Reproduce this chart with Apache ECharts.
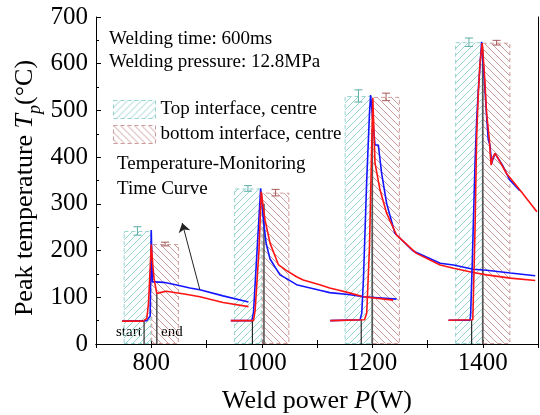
<!DOCTYPE html>
<html><head><meta charset="utf-8">
<script src="https://cdn.jsdelivr.net/npm/echarts@6/dist/echarts.min.js"></script>
<style>html,body{margin:0;padding:0;background:#fff}#c{width:540px;height:415px}</style>
</head><body><div id="c"></div>
<script>
// ---------- data ----------
const powers = [800, 1000, 1200, 1400];
const topPeak = [242, 333, 531, 646];
const topErr = [9, 6, 13, 9];
const bottomPeak = [214, 324, 529, 645];
const bottomErr = [4, 7, 8, 5];
const xTickLabels = [800, 1000, 1200, 1400];
const yTickLabels = [0, 100, 200, 300, 400, 500, 600, 700];

// temperature-monitoring time curves, drawn in weld-power coordinates
const blue800 = [[747,49],[792,50],[798,60],[800,244],[802,133],[807,133],[822,132],[840,128],[870,120],[888,116],[930,103],[976,90]];
const red800 = [[747,49],[785,49],[792,55],[795,87],[797,137],[800,213],[803,166],[805,141],[810,108],[816,110],[827,113],[860,107],[888,101],[930,89],[976,80]];
const blue1000 = [[944,50],[982,50],[985,67],[998,333],[1003,265],[1008,215],[1015,182],[1033,148],[1045,140],[1063,127],[1105,115],[1123,110],[1157,106],[1184,101],[1244,96]];
const red1000 = [[944,50],[985,50],[988,72],[995,200],[999,326],[1006,265],[1015,216],[1030,170],[1045,157],[1063,144],[1075,137],[1105,127],[1123,120],[1136,116],[1157,110],[1184,101],[1238,94]];
const blue1200 = [[1124,50],[1178,52],[1181,66],[1184,137],[1190,351],[1195,494],[1197,533],[1205,426],[1211,426],[1217,365],[1226,301],[1241,237],[1274,199],[1323,173],[1347,169],[1383,160],[1407,158],[1450,152],[1495,146]];
const red1200 = [[1124,50],[1186,52],[1190,66],[1195,208],[1199,422],[1201,527],[1205,387],[1214,330],[1226,280],[1244,233],[1280,194],[1323,169],[1347,162],[1383,153],[1407,148],[1450,141],[1495,136]];
const blue1400 = [[1338,51],[1377,51],[1378,60],[1381,173],[1386,387],[1389,480],[1392,544],[1398,647],[1403,565],[1407,487],[1410,437],[1413,426],[1416,387],[1422,408],[1428,397],[1437,380],[1449,351],[1467,328]];
const red1400 = [[1338,51],[1382,52],[1386,244],[1389,444],[1392,537],[1395,601],[1399,644],[1403,579],[1407,494],[1412,437],[1415,383],[1418,397],[1422,408],[1428,397],[1443,365],[1467,330],[1498,283]];

// weld start / end markers (x, top temperature)
const startMarks = [[787,49],[983,50],[1180,53],[1380,51]];
const endMarks = [[810,108],[1004,300],[1200,460],[1400,630]];
// arrow of the annotation (from, to)
const arrowFrom = [888,116];
const arrowTo = [856,259];

// ---------- styling ----------
const FONT = 'Liberation Serif';
const TEAL = '#95d3cd', TEAL_D = '#5aaea7';
const ROSE = '#cc9b9b', ROSE_D = '#a85a5a';
const HALF = 25; // bar half span in W

function hatch(color, dir) {
  const c = document.createElement('canvas');
  c.width = c.height = 7;
  const g = c.getContext('2d');
  g.strokeStyle = color; g.lineWidth = 1;
  g.beginPath();
  if (dir > 0) {
    g.moveTo(0,7); g.lineTo(7,0); g.moveTo(-1,1); g.lineTo(1,-1); g.moveTo(6,8); g.lineTo(8,6);
  } else {
    g.moveTo(0,0); g.lineTo(7,7); g.moveTo(-1,6); g.lineTo(1,8); g.moveTo(6,-1); g.lineTo(8,1);
  }
  g.stroke();
  return c;
}

const chart = echarts.init(document.getElementById('c'), null, {renderer:'canvas'});

function errRender(color) {
  return function (params, api) {
    const x = api.value(0), v = api.value(1), e = api.value(2);
    const lo = api.coord([x, v - e]), hi = api.coord([x, v + e]);
    const w = 4;
    const st = {stroke: color, lineWidth: 1};
    return {type:'group', children:[
      {type:'line', shape:{x1:lo[0],y1:lo[1],x2:hi[0],y2:hi[1]}, style:st},
      {type:'line', shape:{x1:lo[0]-w,y1:lo[1],x2:lo[0]+w,y2:lo[1]}, style:st},
      {type:'line', shape:{x1:hi[0]-w,y1:hi[1],x2:hi[0]+w,y2:hi[1]}, style:st}
    ]};
  };
}
function vlineRender(color, width) {
  return function (params, api) {
    const x = api.value(0), t = api.value(1);
    const a = api.coord([x, 0]), b = api.coord([x, t]);
    return {type:'line', shape:{x1:a[0],y1:a[1],x2:b[0],y2:b[1]}, style:{stroke:color, lineWidth:width}};
  };
}
function curve(data, color) {
  return {type:'line', data:data, showSymbol:false, symbol:'none', smooth:false,
    lineStyle:{color:color, width:1.6}, itemStyle:{color:color}, z:5, silent:true};
}

const option = {
  animation:false,
  grid:{left:96, right:2, top:17, bottom:71, outerBoundsMode:'none', containLabel:false},
  legend:{
    data:[{name:'Top interface, centre', icon:'rect'},{name:'bottom interface, centre', icon:'rect'}],
    orient:'vertical', left:108, top:95, itemWidth:42, itemHeight:18, itemGap:6,
    itemStyle:{borderType:[4,3], borderWidth:1},
    textStyle:{fontFamily:FONT, fontSize:19, color:'#000'}, selectedMode:false
  },
  xAxis:[{
    type:'value', min:700, max:1500, interval:100,
    axisLine:{lineStyle:{color:'#000', width:1}},
    axisTick:{inside:true, length:4, lineStyle:{color:'#000'}},
    splitLine:{show:false},
    axisLabel:{fontFamily:FONT, fontSize:25, color:'#000', margin:7,
      formatter:v => xTickLabels.indexOf(v) >= 0 ? String(v) : ''}
  },{
    type:'value', position:'top', min:700, max:1500, interval:100,
    axisLine:{show:true, lineStyle:{color:'#000', width:1}},
    axisTick:{show:true, inside:true, length:4, lineStyle:{color:'#000'}},
    axisLabel:{show:false}, splitLine:{show:false}
  }],
  yAxis:[{
    type:'value', min:0, max:700, interval:100,
    axisLine:{show:true, lineStyle:{color:'#000', width:1}},
    axisTick:{show:true, inside:true, length:5, lineStyle:{color:'#000'}},
    minorTick:{show:true, splitNumber:2, length:3, lineStyle:{color:'#000'}},
    splitLine:{show:false},
    axisLabel:{fontFamily:FONT, fontSize:25, color:'#000', margin:8,
      formatter:v => yTickLabels.indexOf(v) >= 0 ? String(v) : ''}
  },{
    type:'value', position:'right', min:0, max:700, interval:100,
    axisLine:{show:true, lineStyle:{color:'#000', width:1}},
    axisTick:{show:false}, axisLabel:{show:false}, splitLine:{show:false}
  }],
  series:[
    {name:'Top interface, centre', type:'bar', barWidth:27.6, barGap:'-100%',
     data: powers.map((p,i)=>[p-HALF, topPeak[i]]),
     itemStyle:{color:{image:hatch(TEAL,1), repeat:'repeat'}, borderColor:TEAL, borderWidth:1, borderType:[4,3]}, z:1},
    {name:'bottom interface, centre', type:'bar', barWidth:27.6, barGap:'-100%',
     data: powers.map((p,i)=>[p+HALF, bottomPeak[i]]),
     itemStyle:{color:{image:hatch(ROSE,-1), repeat:'repeat'}, borderColor:ROSE, borderWidth:1, borderType:[4,3]}, z:1},
    {type:'custom', renderItem:errRender(TEAL_D), data: powers.map((p,i)=>[p-HALF, topPeak[i], topErr[i]]), z:3, silent:true},
    {type:'custom', renderItem:errRender(ROSE_D), data: powers.map((p,i)=>[p+HALF, bottomPeak[i], bottomErr[i]]), z:3, silent:true},
    {type:'custom', renderItem:vlineRender('#000',1), data:startMarks, z:4, silent:true},
    {type:'custom', renderItem:vlineRender('#555',1.6), data:endMarks, z:4, silent:true},
    curve(blue800,'#1414ff'), curve(red800,'#ff1414'),
    curve(blue1000,'#1414ff'), curve(red1000,'#ff1414'),
    curve(blue1200,'#1414ff'), curve(red1200,'#ff1414'),
    curve(blue1400,'#1414ff'), curve(red1400,'#ff1414'),
    {type:'lines', coordinateSystem:'cartesian2d', z:6, silent:true,
     symbol:['none','arrow'], symbolSize:9,
     lineStyle:{color:'#222', width:1, opacity:1},
     data:[{coords:[arrowFrom, arrowTo]}]}
  ],
  graphic:[
    {type:'text', left:109, top:30, style:{text:'Welding time: 600ms', font:'19px "Liberation Serif"', fill:'#000'}},
    {type:'text', left:109, top:53, style:{text:'Welding pressure: 12.8MPa', font:'19px "Liberation Serif"', fill:'#000'}},
    {type:'text', left:117, top:155, style:{text:'Temperature-Monitoring', font:'19px "Liberation Serif"', fill:'#000'}},
    {type:'text', left:117, top:180, style:{text:'Time Curve', font:'19px "Liberation Serif"', fill:'#000'}},
    {type:'text', left:116, top:325, style:{text:'start', font:'15px "Liberation Serif"', fill:'#000'}},
    {type:'text', left:161, top:325, style:{text:'end', font:'15px "Liberation Serif"', fill:'#000'}},
    {type:'text', x:317, y:401, style:{
      text:'{n|Weld power }{i|P}{n|(W)}', align:'center', verticalAlign:'middle',
      rich:{n:{fontFamily:FONT, fontSize:26, fill:'#000'}, i:{fontFamily:FONT, fontSize:26, fontStyle:'italic', fill:'#000'}}}},
    {type:'text', x:27, y:188, rotation:Math.PI/2, style:{
      text:'{n|Peak temperature }{i|T}{s|p}{n|(°C)}', align:'center', verticalAlign:'middle',
      rich:{
        n:{fontFamily:FONT, fontSize:26, fill:'#000', lineHeight:30, verticalAlign:'top'},
        i:{fontFamily:FONT, fontSize:26, fontStyle:'italic', fill:'#000', lineHeight:30, verticalAlign:'top'},
        s:{fontFamily:FONT, fontSize:18, fontStyle:'italic', fill:'#000', lineHeight:20, verticalAlign:'top', padding:[14,0,0,0]}
      }}}
  ]
};
chart.setOption(option);
</script></body></html>
